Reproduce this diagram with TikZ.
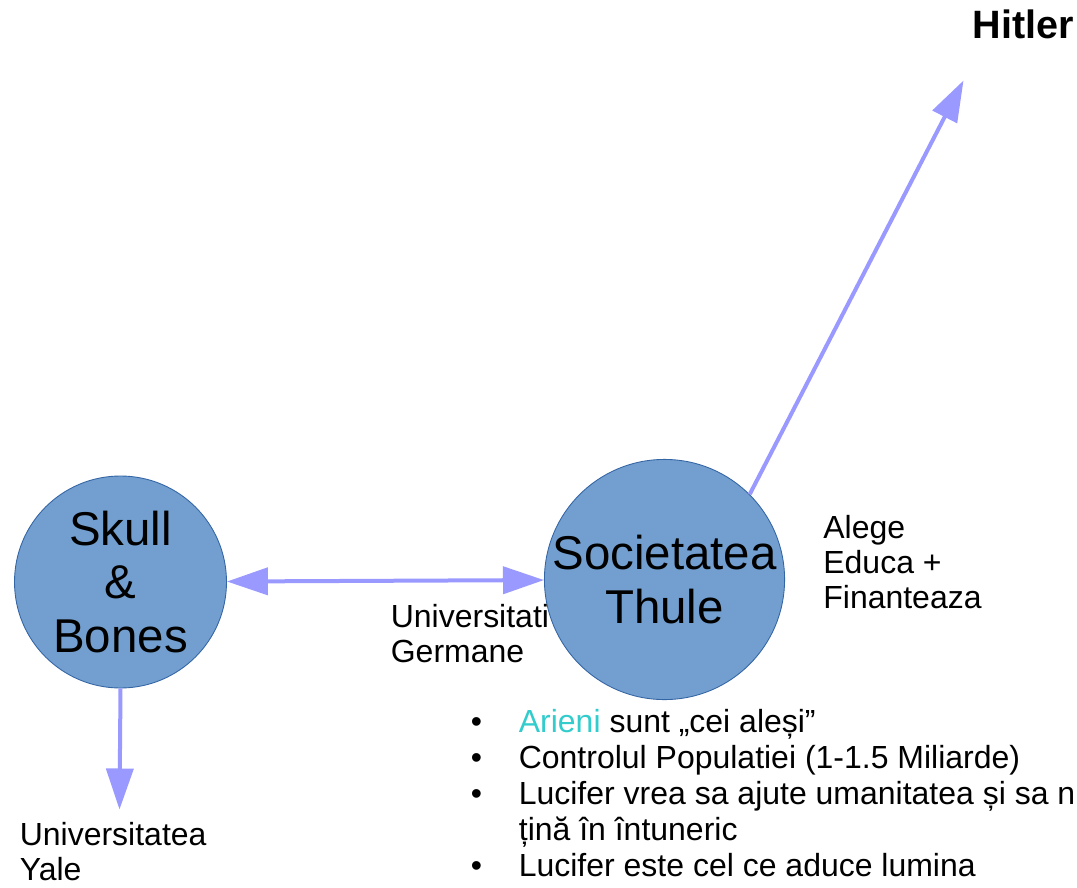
\documentclass[tikz,border=0pt]{standalone}
\usepackage{fontspec}
\setmainfont{Liberation Sans}
\usetikzlibrary{arrows.meta}
\definecolor{cercfill}{HTML}{729FCF}
\definecolor{cercdraw}{HTML}{3465A4}
\definecolor{sageata}{HTML}{9999FF}
\definecolor{turcoaz}{HTML}{33CCCC}
\begin{document}
\begin{tikzpicture}[
  >={Triangle[length=0.82cm,width=0.54cm]},
  cerc/.style={circle,fill=cercfill,draw=cercdraw,line width=0.5pt,inner sep=0pt,
    align=center,font=\fontsize{27}{30.5}\selectfont},
  link/.style={draw=sageata,line width=0.08cm},
  eticheta/.style={inner sep=0pt,align=left,font=\fontsize{18.2}{19.9}\selectfont}
]
  \useasboundingbox (0,0) rectangle (21.54,17.74);
  % cercuri
  \node[cerc,minimum size=4.24cm] (skull) at (2.41,6.10) {Skull\\\&\\Bones};
  \node[cerc,minimum size=4.62cm] (thule) at (13.29,6.15) {Societatea\\Thule};
  % capete libere
  \coordinate (hitlertip) at (19.27,16.13);
  \coordinate (yaletip) at (2.39,1.55);
  % sageti
  \draw[link,<->] (skull) -- (thule);
  \draw[link,->] (skull.south) -- (yaletip);
  \draw[link,->] (thule.45) -- (hitlertip);
  % texte
  \node[font=\bfseries\fontsize{22.5}{26}\selectfont,inner sep=0pt,anchor=base west] (hitler) at (19.45,16.96) {Hitler};
  \node[eticheta,anchor=base west] (germane) at (7.81,4.50) {Universitati\\Germane};
  \node[eticheta,anchor=base west] (alege) at (16.46,5.58) {Alege\\Educa +\\Finanteaza};
  \node[eticheta,anchor=base west] (yale) at (0.39,0.14) {Universitatea\\Yale};
  % lista
  \node[eticheta,font=\fontsize{18.2}{20.4}\selectfont,anchor=base west] (lista) at (9.41,0.22)
    {\makebox[0.96cm][l]{•}\textcolor{turcoaz}{Arieni} sunt „cei aleși”\\
     \makebox[0.96cm][l]{•}Controlul Populatiei (1-1.5 Miliarde)\\
     \makebox[0.96cm][l]{•}Lucifer vrea sa ajute umanitatea și sa n\\
     \hspace*{0.96cm}țină în întuneric\\
     \makebox[0.96cm][l]{•}Lucifer este cel ce aduce lumina};
\end{tikzpicture}
\end{document}
